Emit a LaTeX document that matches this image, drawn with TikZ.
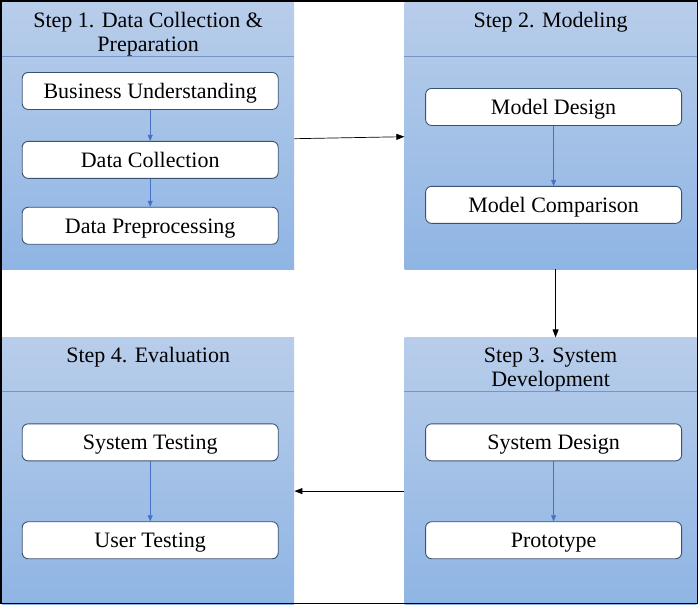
\documentclass[tikz,border=0pt]{standalone}
\usepackage{fontspec}
\setmainfont{Liberation Serif}
\usepackage{tikz}
\usetikzlibrary{positioning}
\usetikzlibrary{arrows.meta}
\definecolor{paneltop}{RGB}{184,205,234}
\definecolor{panelbot}{RGB}{143,181,228}
\definecolor{headline}{RGB}{118,148,196}
\definecolor{boxline}{RGB}{60,82,115}
\definecolor{subarrow}{RGB}{68,114,196}

\begin{document}
\begin{tikzpicture}[node distance=68pt and 110pt,
    font=\fontsize{22}{24.5}\selectfont,
    panel/.style={minimum width=292pt, minimum height=267pt, inner sep=0pt, top color=paneltop, bottom color=panelbot, draw=none},
    sep/.style={draw=headline, line width=0.7pt},
    title/.style={align=center, inner sep=0pt},
    stage/.style={draw=boxline, line width=0.9pt, fill=white, rounded corners=6pt, minimum width=256pt, minimum height=37pt, inner sep=0pt, text height=14.5pt, text depth=0pt},
    inner/.style={-{Triangle[length=6pt,width=5pt]}, draw=subarrow, line width=0.6pt},
    flow/.style={-{Triangle[length=8pt,width=6pt]}, line width=0.7pt}]
                \useasboundingbox (0,0) rectangle (699pt,-605pt);
                \node(s1) [panel, anchor=north west] at (2pt,-2pt) {};
                \node(s2) [panel, right=of s1] {};
                \node(s3) [panel, below=of s2] {};
                \node(s4) [panel, left=of s3] {};
                \foreach \s in {s1,s2,s3,s4}
                    \draw[sep] ([yshift=-54pt]\s.north west) -- ([yshift=-54pt]\s.north east);

                \node(t1) [title, below=10pt of s1.north] {Step 1. Data Collection \&\\Preparation};
                \node(t2) [title, below=10pt of s2.north] {Step 2. Modeling};
                \node(t3) [title, below=10pt of s3.north] {Step 3. System\\Development};
                \node(t4) [title, below=10pt of s4.north] {Step 4. Evaluation};

                \node(bu) [stage, below=70pt of s1.north, xshift=2pt] {Business Understanding};
                \node(dc) [stage, below=31pt of bu] {Data Collection};
                \node(dp) [stage, below=28pt of dc] {Data Preprocessing};
                \node(md) [stage, below=86pt of s2.north, xshift=3pt] {Model Design};
                \node(mc) [stage, below=60pt of md] {Model Comparison};
                \node(sd) [stage, below=86pt of s3.north, xshift=3pt] {System Design};
                \node(pt) [stage, below=60pt of sd] {Prototype};
                \node(st) [stage, below=86pt of s4.north, xshift=2pt] {System Testing};
                \node(ut) [stage, below=60pt of st] {User Testing};

                \foreach \a/\b in {bu/dc, dc/dp, md/mc, sd/pt, st/ut}
                    \draw[inner] (\a) -- (\b);

                \draw[flow] ([yshift=-3pt] s1.east) -- ([yshift=-1pt] s2.west);
                \draw[flow] ([xshift=5pt] s2.south) -- ([xshift=5pt] s3.north);
                \draw[flow] ([yshift=-20pt] s3.west) -- ([yshift=-20pt] s4.east);

                \draw[line width=1.4pt] (1pt,-1pt) rectangle (697.5pt,-603.5pt);
            \end{tikzpicture}
\end{document}
